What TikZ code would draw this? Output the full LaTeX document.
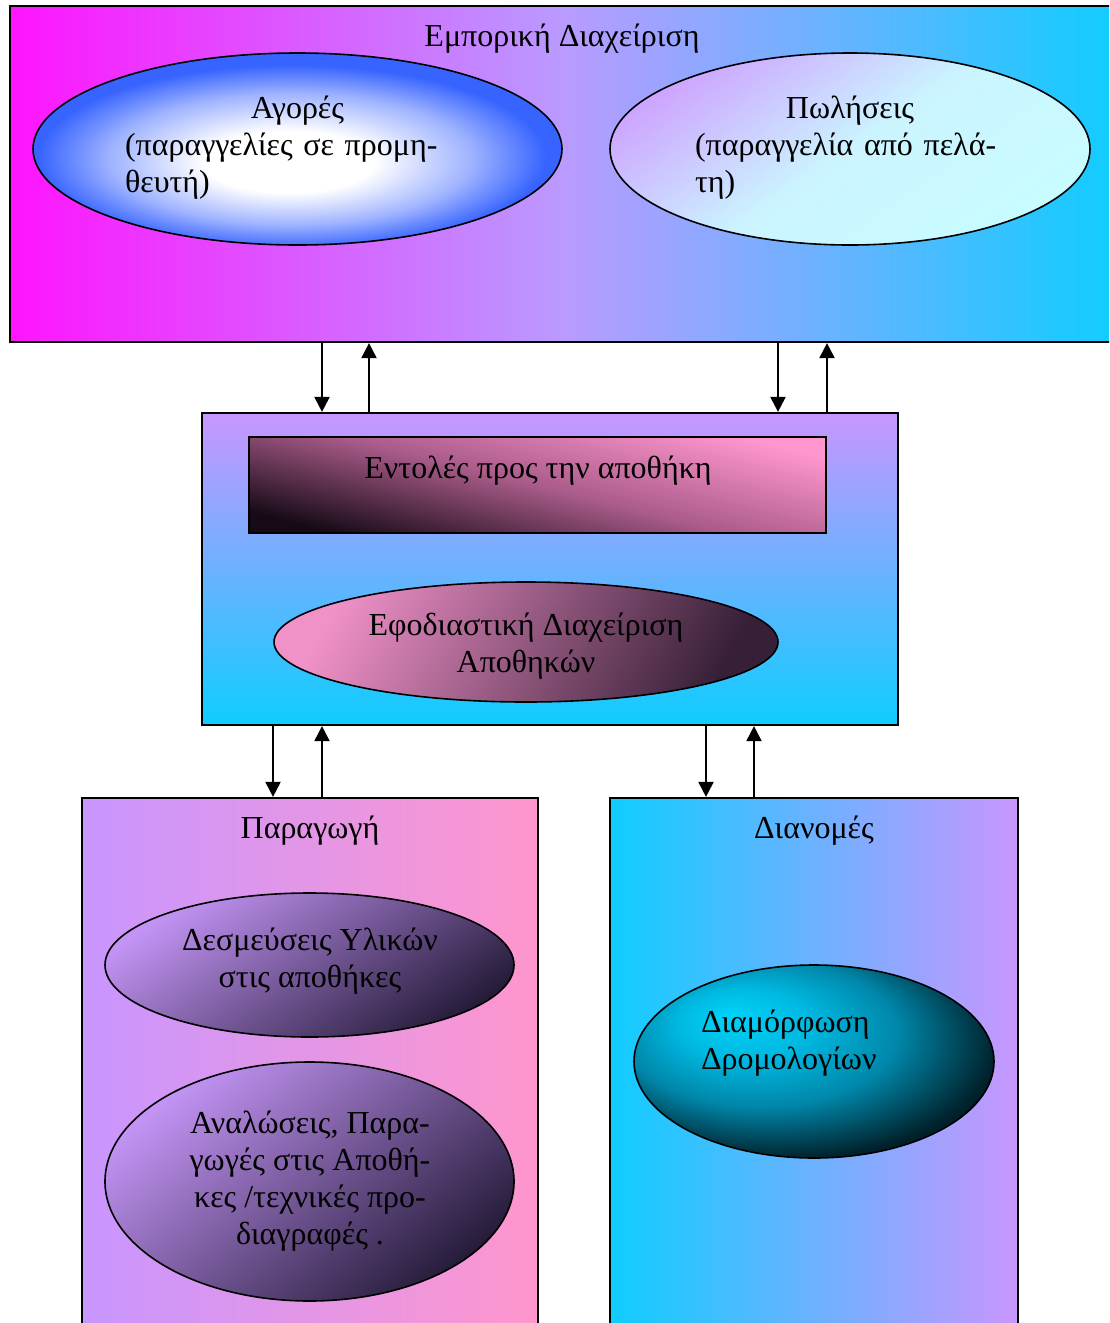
\documentclass[tikz,border=0pt]{standalone}
\usepackage{fontspec}
\setmainfont{Liberation Serif}
\usetikzlibrary{shapes.geometric,arrows.meta}

% palette
\definecolor{magentaA}{RGB}{255,20,255}
\definecolor{lavMid}{RGB}{185,155,255}
\definecolor{cyanA}{RGB}{15,205,255}
\definecolor{lavA}{RGB}{200,150,255}
\definecolor{pinkA}{RGB}{255,150,205}
\definecolor{pinkB}{RGB}{240,145,200}
\definecolor{plumDark}{RGB}{22,10,22}
\definecolor{plumMid}{RGB}{170,92,138}
\definecolor{plumB}{RGB}{55,32,55}
\definecolor{violetA}{RGB}{195,148,245}
\definecolor{violetDark}{RGB}{38,28,58}
\definecolor{saleLav}{RGB}{205,165,255}
\definecolor{saleMid}{RGB}{203,244,255}
\definecolor{saleCyan}{RGB}{200,252,255}

% radial glow for the purchases oval
\definecolor{buyWhite}{RGB}{255,255,255}
\definecolor{buyMid}{RGB}{160,180,255}
\definecolor{buyBlue}{RGB}{55,100,255}
\pgfdeclareradialshading{buyglow}{\pgfpoint{-1bp}{-4bp}}{%
  color(0bp)=(buyWhite); color(8bp)=(buyWhite); color(17bp)=(buyMid);
  color(24bp)=(buyBlue); color(50bp)=(buyBlue)}

% teal glow for the routing oval
\definecolor{routeA}{RGB}{0,210,250}
\definecolor{routeB}{RGB}{0,185,225}
\definecolor{routeC}{RGB}{0,135,170}
\definecolor{routeD}{RGB}{0,35,45}
\definecolor{routeE}{RGB}{0,0,0}
\pgfdeclareradialshading{routeglow}{\pgfpoint{-12bp}{12bp}}{%
  color(0bp)=(routeA); color(9bp)=(routeB); color(19bp)=(routeC);
  color(30bp)=(routeD); color(38bp)=(routeE); color(50bp)=(routeE)}

\tikzset{
  box/.style={draw=black, line width=2.2pt, rectangle, inner sep=0pt},
  oval/.style={draw=black, line width=1.6pt, ellipse, inner sep=0pt},
  lbl/.style={font=\fontsize{32}{37}\selectfont, inner sep=0pt,
              execute at begin node=\strut, execute at end node=\strut},
  linkarrow/.style={line width=2pt, -{Triangle[length=15pt,width=15pt]}},
}

\begin{document}
\begin{tikzpicture}[x=1pt,y=-1pt]
\clip (0,0) rectangle (1109,1323);

% ---- outer frames ----
\node[box, minimum width=1110pt, minimum height=336pt,
      left color=magentaA, right color=cyanA, middle color=lavMid]
      (trade) at (565,174) {};
\node[box, minimum width=696pt, minimum height=312pt,
      top color=lavA, bottom color=cyanA]
      (store) at (550,569) {};
\node[box, minimum width=456pt, minimum height=540pt,
      left color=lavA, right color=pinkA]
      (prod) at (310,1068) {};
\node[box, minimum width=408pt, minimum height=540pt,
      left color=cyanA, right color=lavA]
      (dist) at (814,1068) {};

% ---- commercial management ----
\node[lbl] (tradeTitle) at (562,39.5) {Εμπορική Διαχείριση};
\node[oval, minimum width=529pt, minimum height=192pt, shade, shading=buyglow]
      (buy) at (297.5,149) {};
\node[lbl, text width=360pt, align=left] (buyTxt) at (305,148.5)
      {\makebox[345pt]{Αγορές}\\(παραγγελίες σε προμη-\\θευτή)};
\node[oval, minimum width=480pt, minimum height=192pt,
      top color=saleLav, bottom color=saleCyan, middle color=saleMid, shading angle=35]
      (sale) at (850,149) {};
\node[lbl, text width=360pt, align=left] (saleTxt) at (875,148.5)
      {\makebox[310pt]{Πωλήσεις}\\(παραγγελία από πελά-\\τη)};

% ---- warehouse ----
\node[draw=black, line width=1.6pt, rectangle, inner sep=0pt,
      minimum width=577pt, minimum height=96pt,
      top color=pinkA, bottom color=plumDark, middle color=plumMid, shading angle=-14]
      (orders) at (537.5,485) {};
\node[lbl] (ordersTxt) at (538,471.5) {Εντολές προς την αποθήκη};
\node[oval, minimum width=504pt, minimum height=120pt,
      top color=pinkB, bottom color=plumB, shading angle=62]
      (logi) at (526,642) {};
\node[lbl, align=center] (logiTxt) at (526,648)
      {Εφοδιαστική Διαχείριση\\Αποθηκών};

% ---- production ----
\node[lbl] (prodTitle) at (310,831.5) {Παραγωγή};
\node[oval, minimum width=409pt, minimum height=144pt,
      top color=violetA, bottom color=violetDark, shading angle=35]
      (reserve) at (309.5,965) {};
\node[lbl, align=center] (reserveTxt) at (310,963.5)
      {Δεσμεύσεις Υλικών\\στις αποθήκες};
\node[oval, minimum width=409pt, minimum height=239pt,
      top color=violetA, bottom color=violetDark, shading angle=40]
      (usage) at (309.5,1181.5) {};
\node[lbl, align=center] (usageTxt) at (310,1183.5)
      {Αναλώσεις, Παρα-\\γωγές στις Αποθή-\\κες /τεχνικές προ-\\διαγραφές .};

% ---- distribution ----
\node[lbl] (distTitle) at (814,831.5) {Διανομές};
\node[oval, minimum width=360pt, minimum height=193pt, shade, shading=routeglow]
      (route) at (814,1061.5) {};
\node[lbl, text width=260pt, align=left] (routeTxt) at (831,1043.5)
      {Διαμόρφωση\\Δρομολογίων};

% ---- connectors ----
\coordinate (xa) at (322,0);
\coordinate (xb) at (369,0);
\coordinate (xc) at (778,0);
\coordinate (xd) at (827,0);
\coordinate (xe) at (273,0);
\coordinate (xf) at (322,0);
\coordinate (xg) at (706,0);
\coordinate (xh) at (754,0);

\draw[linkarrow] (trade.south -| xa) -- (store.north -| xa);
\draw[linkarrow] (store.north -| xb) -- (trade.south -| xb);
\draw[linkarrow] (trade.south -| xc) -- (store.north -| xc);
\draw[linkarrow] (store.north -| xd) -- (trade.south -| xd);
\draw[linkarrow] (store.south -| xe) -- (prod.north -| xe);
\draw[linkarrow] (prod.north -| xf) -- (store.south -| xf);
\draw[linkarrow] (store.south -| xg) -- (dist.north -| xg);
\draw[linkarrow] (dist.north -| xh) -- (store.south -| xh);
\end{tikzpicture}
\end{document}
